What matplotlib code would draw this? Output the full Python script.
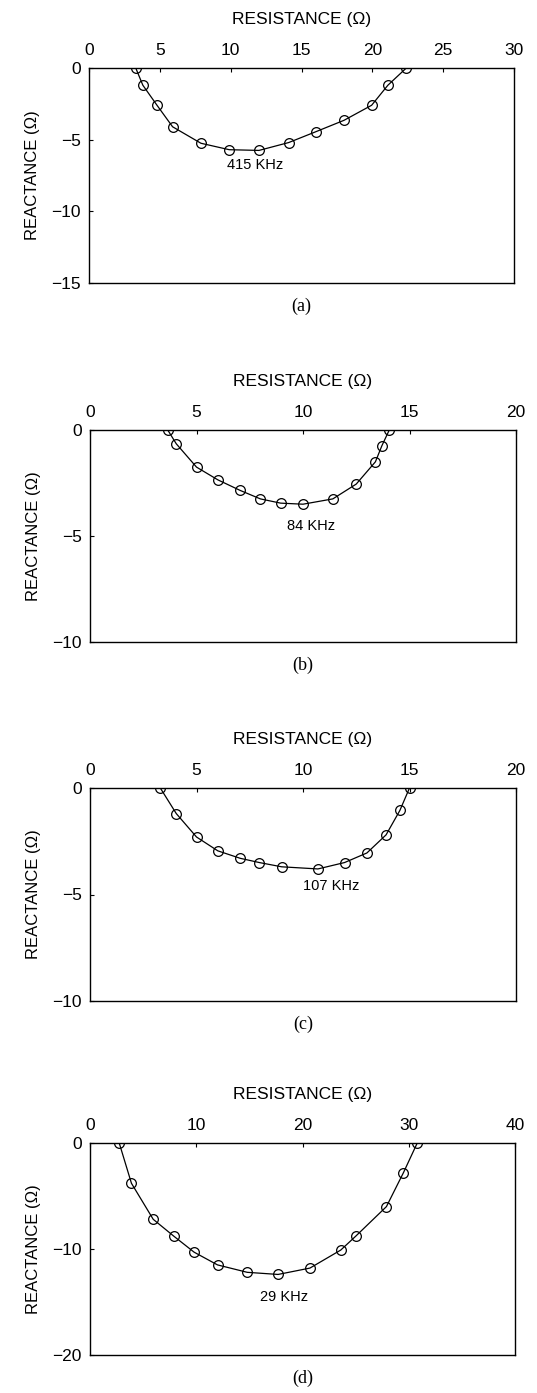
import numpy as np
import matplotlib
matplotlib.use("Agg")
import matplotlib.pyplot as plt

plt.rcParams['font.family'] = ['Liberation Sans', 'DejaVu Sans']

# impedance loci: resistance (ohm), reactance (ohm)
r_415 = [3.3, 3.8, 4.8, 5.9, 7.9, 9.9, 12.0, 14.1, 16.0, 18.0, 19.95, 21.1, 22.4]
x_415 = [0.0, -1.2, -2.6, -4.1, -5.25, -5.7, -5.75, -5.2, -4.45, -3.65, -2.6, -1.2, 0.0]

r_84 = [3.65, 4.05, 5.0, 6.0, 7.05, 8.0, 8.95, 10.0, 11.4, 12.5, 13.4, 13.7, 14.05]
x_84 = [0.0, -0.65, -1.75, -2.35, -2.85, -3.25, -3.45, -3.5, -3.25, -2.55, -1.5, -0.75, 0.0]

r_107 = [3.3, 4.05, 5.0, 6.0, 7.05, 7.95, 9.0, 10.7, 11.95, 13.0, 13.9, 14.55, 15.0]
x_107 = [0.0, -1.2, -2.3, -2.95, -3.3, -3.5, -3.7, -3.8, -3.5, -3.05, -2.2, -1.05, 0.0]

r_29 = [2.75, 3.9, 5.95, 7.9, 9.8, 12.0, 14.8, 17.7, 20.7, 23.6, 25.0, 27.9, 29.5, 30.8]
x_29 = [0.0, -3.8, -7.2, -8.8, -10.3, -11.5, -12.2, -12.4, -11.8, -10.1, -8.8, -6.0, -2.8, 0.0]

panels = [
    # r, x, xlim, ylim, xticks, yticks, freq label, label pos, caption
    (r_415, x_415, (0, 30), (-15, 0), [0, 5, 10, 15, 20, 25, 30], [0, -5, -10, -15],
     '415 KHz', (11.7, -6.8), '(a)'),
    (r_84, x_84, (0, 20), (-10, 0), [0, 5, 10, 15, 20], [0, -5, -10],
     '84 KHz', (10.4, -4.55), '(b)'),
    (r_107, x_107, (0, 20), (-10, 0), [0, 5, 10, 15, 20], [0, -5, -10],
     '107 KHz', (11.3, -4.6), '(c)'),
    (r_29, x_29, (0, 40), (-20, 0), [0, 10, 20, 30, 40], [0, -10, -20],
     '29 KHz', (18.3, -14.5), '(d)'),
]

W, H = 537, 1393
fig = plt.figure(figsize=(W / 100, H / 100), dpi=100)

# axes boxes in pixels: left, top, right, bottom
boxes = [(89, 68, 514, 283), (90, 430, 516, 642), (90, 788, 516, 1001), (90, 1143, 515, 1355)]

for (r, x, xl, yl, xt, yt, lab, lpos, cap), (l, t, rr, b) in zip(panels, boxes):
    ax = fig.add_axes([l / W, 1 - b / H, (rr - l) / W, (b - t) / H])
    ax.plot(r, x, color='black', lw=0.9, marker='o', ms=7, mfc='none', mec='black', mew=0.9)
    ax.set_xlim(*xl)
    ax.set_ylim(*yl)
    ax.set_xticks(xt)
    ax.set_yticks(yt)
    ax.xaxis.tick_top()
    ax.xaxis.set_label_position('top')
    ax.tick_params(direction='in', length=3, width=0.8, labelsize=12.5, colors='black')
    ax.tick_params(axis='x', pad=7)
    ax.tick_params(axis='y', pad=6)
    ax.set_xlabel('RESISTANCE (\u03a9)', fontsize=12.5, labelpad=14)
    ax.set_ylabel('REACTANCE (\u03a9)', fontsize=12, labelpad=8)
    for s in ax.spines.values():
        s.set_linewidth(1.0)
    ax.text(lpos[0], lpos[1], lab, fontsize=10.5, ha='center', va='center')
    ax.text(0.5, -0.11, cap, transform=ax.transAxes, ha='center', va='center',
            fontsize=13, family='Liberation Serif')

fig.savefig('out.png', dpi=100)
